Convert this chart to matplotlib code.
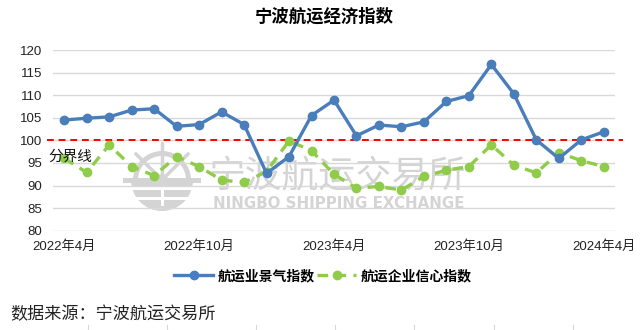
import matplotlib
matplotlib.use("Agg")
import matplotlib.pyplot as plt
from matplotlib.lines import Line2D
from matplotlib.patches import Wedge, Rectangle, Circle
import numpy as np

plt.rcParams.update({
    "font.family": ["Liberation Sans", "Noto Sans CJK SC", "DejaVu Sans"],
    "axes.unicode_minus": False,
})

# ── Data ─────────────────────────────────────────────────────────
months = ["2022年4月", "2022年5月", "2022年6月", "2022年7月", "2022年8月",
          "2022年9月", "2022年10月", "2022年11月", "2022年12月", "2023年1月",
          "2023年2月", "2023年3月", "2023年4月", "2023年5月", "2023年6月",
          "2023年7月", "2023年8月", "2023年9月", "2023年10月", "2023年11月",
          "2023年12月", "2024年1月", "2024年2月", "2024年3月", "2024年4月"]
prosperity = [104.5, 104.9, 105.2, 106.7, 107.0, 103.1, 103.5, 106.3, 103.5,
              92.7, 96.4, 105.5, 108.9, 101.0, 103.4, 103.0, 104.1, 108.6,
              109.9, 116.8, 110.3, 100.1, 96.0, 100.1, 101.9]
confidence = [96.0, 92.9, 99.0, 94.2, 92.2, 96.4, 94.2, 91.2, 90.7,
              93.1, 99.9, 97.7, 92.5, 89.4, 89.8, 89.0, 92.0, 93.4,
              94.2, 99.0, 94.5, 92.8, 97.3, 95.5, 94.2]
tick_idx = [0, 6, 12, 18, 24]
yticks = [80, 85, 90, 95, 100, 105, 110, 115, 120]
threshold = 100

BLUE = "#4a7ebb"
GREEN = "#8fcc4a"
WM = "#d4d4d4"

W, H = 641, 330
fig = plt.figure(figsize=(W / 100, H / 100), dpi=100)

# ── Watermark logo (ship wheel) ──────────────────────────────────
lg = fig.add_axes([122 / W, (H - 220) / H, 80 / W, 80 / H], zorder=0)
lg.set_xlim(-40, 40)
lg.set_ylim(-40, 40)
lg.axis("off")
lg.add_patch(Wedge((0, 0), 31, 180, 360, color=WM, lw=0))
for yy in (-8, -18):
    lg.add_patch(Rectangle((-32, yy - 1.5), 64, 3, color="white", lw=0))
lg.add_patch(Rectangle((-1.5, -26), 3, 26, color="white", lw=0))
lg.add_patch(Wedge((0, 0), 29, 0, 180, width=5, color=WM, lw=0))
lg.add_patch(Rectangle((-39, -2.5), 78, 5, color=WM, lw=0))
for ang in (45, 90, 135):
    a = np.deg2rad(ang)
    lg.plot([0, 37 * np.cos(a)], [0, 37 * np.sin(a)], color=WM, lw=2.5,
            solid_capstyle="round")
lg.add_patch(Circle((0, 0), 6, color=WM, lw=0))

# ── Main axes ────────────────────────────────────────────────────
ax = fig.add_axes([53 / W, (H - 230.7) / H, 562 / W, 180.7 / H], zorder=1)
ax.patch.set_alpha(0)

fig.text(337 / W, 1 - 177 / H, "宁波航运交易所", fontsize=26.5, color=WM,
         ha="center", va="center", family=["Noto Sans CJK SC"], zorder=0.5)
fig.text(339 / W, 1 - 203 / H, "NINGBO SHIPPING EXCHANGE", fontsize=10.8,
         color=WM, ha="center", va="center", fontweight="bold",
         family=["DejaVu Sans"], zorder=0.5)

x = np.arange(len(months))
ax.set_xlim(-0.5, len(months) - 0.5)
ax.set_ylim(yticks[0], yticks[-1])
ax.set_yticks(yticks)
ax.grid(axis="y", color="#d9d9d9", lw=1)
ax.set_axisbelow(True)
for s in ax.spines.values():
    s.set_visible(False)
ax.set_xticks(tick_idx)
ax.set_xticklabels([months[i] for i in tick_idx], fontsize=9.5)
ax.tick_params(axis="both", length=0, labelsize=9.5, colors="#222222")
ax.tick_params(axis="x", pad=7)
ax.tick_params(axis="y", pad=8)

ax.plot([-0.01, 1.015], [threshold, threshold], color="#ff0000", lw=1.4,
        dashes=(3.5, 2.5), transform=ax.get_yaxis_transform(), clip_on=False,
        zorder=2)
fig.text(48 / W, 1 - 157 / H, "分界线", fontsize=10.5, color="#111111",
         va="center", ha="left", family=["Noto Sans CJK SC"])

ax.plot(x, confidence, color=GREEN, lw=2.4, dashes=(3.2, 2.2), marker="o",
        markersize=6, zorder=3, label="航运企业信心指数")
ax.plot(x, prosperity, color=BLUE, lw=2.4, marker="o", markersize=6,
        zorder=4, label="航运业景气指数")

h, l = ax.get_legend_handles_labels()
fig.legend(h[::-1], l[::-1], loc="center", bbox_to_anchor=(323 / W, 1 - 276 / H),
           ncol=2, frameon=False, handlelength=2.8, columnspacing=0.2,
           handletextpad=0.3, prop={"family": "Noto Sans CJK SC",
                                    "weight": "bold", "size": 10})

fig.text(324 / W, 1 - 17 / H, "宁波航运经济指数", fontsize=12.5, fontweight="bold",
         ha="center", va="center", family=["Noto Sans CJK SC"])
fig.text(10 / W, 1 - 314 / H, "数据来源：宁波航运交易所", fontsize=12.3,
         color="#222222", ha="left", va="center", family=["Noto Sans CJK SC"])

for px in (88, 167, 256, 335, 414, 494, 573):
    fig.add_artist(Line2D([px / W, px / W], [0, 5 / H], color="#d8d8d8", lw=0.8))

fig.savefig("out.png", dpi=100)
